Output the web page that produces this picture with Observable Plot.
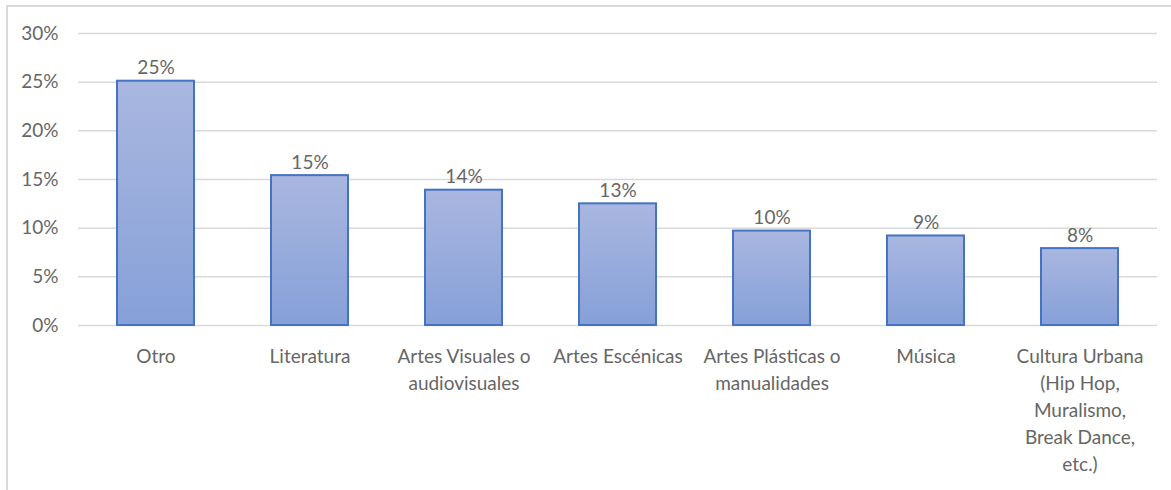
<!DOCTYPE html>
<html><head><meta charset="utf-8">
<script src="https://cdn.jsdelivr.net/npm/d3@7"></script>
<script src="https://cdn.jsdelivr.net/npm/@observablehq/plot@0.6"></script>
<style>
body{margin:0;background:#fff;}
#wrap{position:relative;width:1171px;height:490px;overflow:hidden;}
#frame{position:absolute;left:6px;top:5px;width:1171px;height:490px;border-left:2px solid #d9d9d9;border-top:2px solid #d9d9d9;}
#chart{position:absolute;left:0;top:0;}
</style></head><body><div id="wrap"><div id="frame"></div><div id="chart"></div></div>
<script>
const categories = ["Otro", "Literatura", "Artes Visuales o\naudiovisuales", "Artes Escénicas", "Artes Plásticas o\nmanualidades", "Música", "Cultura Urbana\n(Hip Hop,\nMuralismo,\nBreak Dance,\netc.)"];
const values = [25.1, 15.4, 13.9, 12.5, 9.7, 9.2, 7.9];
const tickValues = [0, 5, 10, 15, 20, 25, 30];

const data = categories.map((c, i) => ({category: c, value: values[i]}));

const defs = () => {
  const d = d3.create("svg:defs");
  const g = d.append("linearGradient").attr("id", "barGrad")
    .attr("x1", 0).attr("y1", 0).attr("x2", 0).attr("y2", 1);
  g.append("stop").attr("offset", "0%").attr("stop-color", "#a9b7e0");
  g.append("stop").attr("offset", "100%").attr("stop-color", "#86a0d8");
  return d.node();
};

const chart = Plot.plot({
  width: 1171, height: 490,
  marginLeft: 78, marginRight: 14, marginTop: 33, marginBottom: 165,
  style: {fontFamily: "Lato", fontSize: "19px", color: "#666666", background: "transparent", overflow: "visible"},
  x: {domain: categories, paddingInner: 0.5, paddingOuter: 0.25, label: null},
  y: {domain: [0, 30], label: null},
  marks: [
    defs,
    Plot.gridY(tickValues, {stroke: "#d9d9d9", strokeOpacity: 1, strokeWidth: 1.5}),
    Plot.barY(data, {x: "category", y: "value", fill: "url(#barGrad)", stroke: "#4472c4", strokeWidth: 2}),
    Plot.text(data, {x: "category", y: "value", text: d => Math.round(d.value) + "%", dy: -7, lineAnchor: "bottom", fill: "#666666"}),
    Plot.axisY(tickValues, {tickSize: 0, tickPadding: 20, tickFormat: d => d + "%", label: null, fill: "#666666"}),
    Plot.axisX({tickSize: 0, tickPadding: 18, lineHeight: 1.42, label: null, fill: "#666666"})
  ]
});
document.getElementById("chart").appendChild(chart);
</script></body></html>
